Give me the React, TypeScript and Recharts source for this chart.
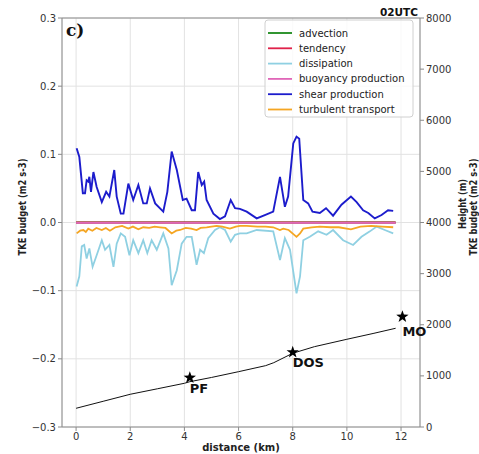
import React from "react";
import {
  ComposedChart,
  Line,
  Scatter,
  XAxis,
  YAxis,
  CartesianGrid,
  ReferenceLine,
} from "recharts";

// ---- tick labels ----
const xTicks = [0, 2, 4, 6, 8, 10, 12];
const leftTicks = [-0.3, -0.2, -0.1, 0, 0.1, 0.2, 0.3];
const rightTicks = [0, 1000, 2000, 3000, 4000, 5000, 6000, 7000, 8000];

// ---- series names / colours ----
const seriesNames = [
  "advection",
  "tendency",
  "dissipation",
  "buoyancy production",
  "shear production",
  "turbulent transport",
];
const seriesColors = ["#1a8a1a", "#e0224a", "#8fd0e2", "#e066b8", "#1c1ccc", "#f5a623"];

// ---- TKE budget terms: [distance km, value m2 s-3] ----
const flatX = [0, 1, 2, 3, 4, 5, 6, 7, 8, 9, 10, 11, 11.8];
const advection = [0, 0, 0, 0, 0, 0, 0, 0, 0, 0, 0, 0, 0];
const tendency = [0, 0, 0, 0, 0, 0, 0, 0, 0, 0, 0, 0, 0];
const buoyancy = [-0.0005, -0.0005, -0.0005, -0.0005, -0.0005, -0.0005, -0.0005, -0.0005, -0.0005, -0.0005, -0.0005, -0.0005, -0.0005];

const shear: [number, number][] = [
  [0.02, 0.109], [0.12, 0.096], [0.25, 0.043], [0.33, 0.043], [0.39, 0.062], [0.45, 0.06],
  [0.49, 0.067], [0.55, 0.045], [0.64, 0.074], [0.76, 0.052], [0.95, 0.03], [1.11, 0.045],
  [1.23, 0.038], [1.41, 0.077], [1.5, 0.038], [1.65, 0.013], [1.75, 0.013], [1.93, 0.057],
  [2.11, 0.033], [2.3, 0.055], [2.48, 0.028], [2.61, 0.028], [2.73, 0.05], [2.92, 0.028],
  [3.22, 0.016], [3.37, 0.045], [3.53, 0.104], [3.72, 0.077], [3.94, 0.033], [4.08, 0.035],
  [4.27, 0.018], [4.39, 0.018], [4.51, 0.074], [4.64, 0.055], [4.73, 0.06], [4.82, 0.033],
  [5.07, 0.013], [5.31, 0.005], [5.5, 0.009], [5.71, 0.033], [5.87, 0.021], [6.05, 0.02],
  [6.3, 0.016], [6.67, 0.006], [6.97, 0.011], [7.28, 0.016], [7.53, 0.067], [7.71, 0.023],
  [7.83, 0.038], [8.02, 0.116], [8.14, 0.126], [8.24, 0.123], [8.39, 0.033], [8.57, 0.028],
  [8.73, 0.016], [9.0, 0.014], [9.23, 0.021], [9.49, 0.01], [9.8, 0.026], [10.15, 0.038],
  [10.36, 0.03], [10.6, 0.018], [10.79, 0.014], [11.03, 0.006], [11.28, 0.011], [11.52, 0.018],
  [11.71, 0.017],
];

const dissipation: [number, number][] = [
  [0.02, -0.094], [0.12, -0.079], [0.21, -0.035], [0.3, -0.033], [0.39, -0.053], [0.49, -0.038],
  [0.61, -0.065], [0.76, -0.048], [0.95, -0.026], [1.07, -0.04], [1.23, -0.033], [1.38, -0.065],
  [1.5, -0.031], [1.65, -0.016], [1.81, -0.021], [1.97, -0.048], [2.11, -0.026], [2.3, -0.045],
  [2.48, -0.026], [2.63, -0.045], [2.79, -0.026], [2.98, -0.04], [3.22, -0.016], [3.41, -0.038],
  [3.53, -0.092], [3.72, -0.07], [3.9, -0.031], [4.08, -0.021], [4.27, -0.021], [4.45, -0.062],
  [4.58, -0.04], [4.72, -0.045], [4.88, -0.023], [5.13, -0.011], [5.31, -0.007], [5.5, -0.011],
  [5.71, -0.028], [5.87, -0.018], [6.05, -0.016], [6.3, -0.016], [6.67, -0.011], [7.28, -0.013],
  [7.53, -0.055], [7.71, -0.023], [7.9, -0.04], [8.14, -0.104], [8.27, -0.079], [8.39, -0.026],
  [8.63, -0.021], [8.94, -0.013], [9.25, -0.018], [9.49, -0.011], [9.86, -0.026], [10.23, -0.033],
  [10.54, -0.021], [10.85, -0.013], [11.1, -0.006], [11.4, -0.011], [11.71, -0.016],
];

const transport: [number, number][] = [
  [0.02, -0.016], [0.15, -0.012], [0.27, -0.011], [0.36, -0.014], [0.45, -0.009], [0.6, -0.012],
  [0.75, -0.008], [0.95, -0.011], [1.1, -0.008], [1.25, -0.012], [1.45, -0.007], [1.7, -0.005],
  [1.93, -0.009], [2.1, -0.006], [2.3, -0.01], [2.48, -0.007], [2.7, -0.008], [2.9, -0.006],
  [3.1, -0.007], [3.3, -0.008], [3.53, -0.016], [3.7, -0.012], [3.84, -0.011], [4.05, -0.008],
  [4.25, -0.009], [4.45, -0.011], [4.6, -0.008], [4.82, -0.007], [5.0, -0.006], [5.19, -0.005],
  [5.4, -0.006], [5.68, -0.009], [5.9, -0.006], [6.05, -0.005], [6.3, -0.005], [6.7, -0.006],
  [7.0, -0.006], [7.28, -0.007], [7.53, -0.011], [7.65, -0.009], [7.85, -0.011], [8.14, -0.021],
  [8.27, -0.016], [8.39, -0.009], [8.7, -0.007], [9.0, -0.006], [9.4, -0.007], [9.7, -0.007],
  [10.15, -0.01], [10.5, -0.006], [10.9, -0.005], [11.3, -0.006], [11.71, -0.007],
];

// ---- terrain height: [distance km, height m] ----
const terrain: [number, number][] = [
  [0, 366], [1, 503], [2, 640], [3, 747], [4, 855], [4.2, 886], [5, 969], [6, 1082],
  [7, 1200], [7.3, 1258], [8, 1442], [8.8, 1571], [10, 1716], [11, 1833], [11.8, 1931],
];

// ---- stations ----
const stationNames = ["PF", "DOS", "MO"];
const stationX = [4.2, 8.0, 12.05];
const stationH = [965, 1462, 2158];
const stationLabelDy = [15, 15, 19];

const toObj = (pts: [number, number][]) => pts.map(([x, v]) => ({ x, v }));
const flat = (vals: number[]) => flatX.map((x, i) => ({ x, v: vals[i] }));
const stations = stationNames.map((name, i) => ({ x: stationX[i], h: stationH[i], name, dy: stationLabelDy[i] }));

const FONT = "DejaVu Sans";

const fmtLeft = (v: number) => {
  const s = Math.abs(v).toFixed(1);
  return v < 0 ? "\u2212" + s : s;
};

const starPath = (cx: number, cy: number, R: number, r: number) => {
  let d = "";
  for (let i = 0; i < 10; i++) {
    const ang = -Math.PI / 2 + (i * Math.PI) / 5;
    const rad = i % 2 === 0 ? R : r;
    d += (i === 0 ? "M" : "L") + (cx + rad * Math.cos(ang)).toFixed(2) + "," + (cy + rad * Math.sin(ang)).toFixed(2);
  }
  return d + "Z";
};

const StationShape = (props: any) => {
  const { cx, cy, payload } = props;
  return (
    <g>
      <path d={starPath(cx, cy, 6.5, 2.6)} fill="#000" />
      <text x={cx} y={cy + payload.dy} fontFamily={FONT} fontWeight="bold" fontSize={13} fill="#111">
        {payload.name}
      </text>
    </g>
  );
};

const tickStyle = { fontFamily: FONT, fontSize: 10, fill: "#333" };
const axisGray = "#8a8a8a";

export default function App() {
  const legendTop = 20;
  const legendRow = 15.3;
  return (
    <div style={{ position: "absolute", left: 0, top: 0, width: 479, height: 454, background: "#fff" }}>
      <ComposedChart width={479} height={454} margin={{ top: 18, right: 19, left: 12, bottom: 0 }}>
        <CartesianGrid stroke="#e2e2e2" strokeWidth={1} yAxisId="left" />
        <XAxis
          dataKey="x"
          type="number"
          domain={[-0.52, 12.7]}
          ticks={xTicks}
          height={27}
          tick={tickStyle}
          tickSize={4}
          tickLine={{ stroke: axisGray }}
          axisLine={{ stroke: axisGray }}
        />
        <YAxis
          yAxisId="left"
          type="number"
          domain={[-0.3, 0.3]}
          ticks={leftTicks}
          width={50}
          tick={tickStyle}
          tickFormatter={fmtLeft}
          tickSize={4}
          tickLine={{ stroke: axisGray }}
          axisLine={{ stroke: axisGray }}
        />
        <YAxis
          yAxisId="right"
          orientation="right"
          type="number"
          domain={[0, 8000]}
          ticks={rightTicks}
          width={40}
          tick={tickStyle}
          tickSize={4}
          tickLine={{ stroke: axisGray }}
          axisLine={{ stroke: axisGray }}
        />
        <ReferenceLine yAxisId="left" y={0.3} stroke={axisGray} />
        <Line yAxisId="left" data={flat(advection)} dataKey="v" stroke={seriesColors[0]} strokeWidth={1.8} dot={false} isAnimationActive={false} />
        <Line yAxisId="left" data={flat(tendency)} dataKey="v" stroke={seriesColors[1]} strokeWidth={1.8} dot={false} isAnimationActive={false} />
        <Line yAxisId="left" data={toObj(dissipation)} dataKey="v" stroke={seriesColors[2]} strokeWidth={1.8} dot={false} isAnimationActive={false} />
        <Line yAxisId="left" data={flat(buoyancy)} dataKey="v" stroke={seriesColors[3]} strokeWidth={1.8} dot={false} isAnimationActive={false} />
        <Line yAxisId="left" data={toObj(shear)} dataKey="v" stroke={seriesColors[4]} strokeWidth={1.9} dot={false} isAnimationActive={false} />
        <Line yAxisId="left" data={toObj(transport)} dataKey="v" stroke={seriesColors[5]} strokeWidth={1.8} dot={false} isAnimationActive={false} />
        <Line yAxisId="right" data={toObj(terrain)} dataKey="v" stroke="#111" strokeWidth={1} dot={false} isAnimationActive={false} />
        <Scatter yAxisId="right" data={stations} dataKey="h" shape={StationShape} isAnimationActive={false} />
      </ComposedChart>
      <svg width={479} height={454} style={{ position: "absolute", left: 0, top: 0, pointerEvents: "none" }}>
        <text x={66} y={36} fontFamily="DejaVu Serif" fontWeight="bold" fontSize={17} fill="#111">c)</text>
        <text x={418} y={16} textAnchor="end" fontFamily={FONT} fontWeight="bold" fontSize={10.5} fill="#111">02UTC</text>
        <text x={241} y={451} textAnchor="middle" fontFamily={FONT} fontWeight="bold" fontSize={10} fill="#222">distance (km)</text>
        <text transform="translate(26,207) rotate(-90)" textAnchor="middle" textLength={97} lengthAdjust="spacingAndGlyphs" fontFamily={FONT} fontWeight="bold" fontSize={10} fill="#222">TKE budget (m2 s-3)</text>
        <text transform="translate(466,204) rotate(-90)" textAnchor="middle" textLength={50} lengthAdjust="spacingAndGlyphs" fontFamily={FONT} fontWeight="bold" fontSize={10} fill="#222">Height (m)</text>
        <text transform="translate(477,207) rotate(-90)" textAnchor="middle" textLength={97} lengthAdjust="spacingAndGlyphs" fontFamily={FONT} fontWeight="bold" fontSize={10} fill="#222">TKE budget (m2 s-3)</text>
        <rect x={265} y={legendTop} width={148} height={97} rx={3} fill="#fff" fillOpacity={0.8} stroke="#d0d0d0" />
        {seriesNames.map((name, i) => {
          const y = legendTop + 13 + i * legendRow;
          return (
            <g key={name}>
              <line x1={268} x2={292} y1={y} y2={y} stroke={seriesColors[i]} strokeWidth={1.8} />
              <text x={299} y={y + 3.5} fontFamily={FONT} fontSize={10} fill="#222">{name}</text>
            </g>
          );
        })}
      </svg>
    </div>
  );
}
